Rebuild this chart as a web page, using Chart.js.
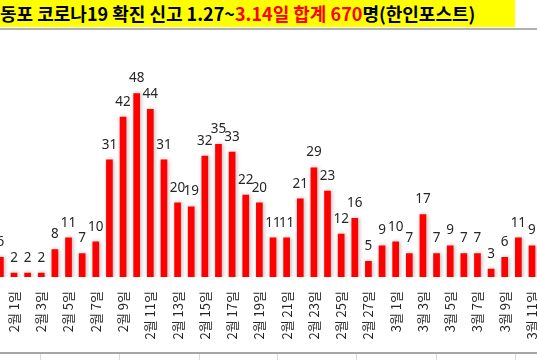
<!DOCTYPE html>
<html><head><meta charset="utf-8">
<script src="https://cdn.jsdelivr.net/npm/chart.js@4.4.0/dist/chart.umd.min.js"></script>
<style>
html,body{margin:0;padding:0;width:537px;height:360px;overflow:hidden;background:#fff;position:relative}
#title{position:absolute;left:0;top:0;width:515px;height:27px;background:#ffff00;font-family:'Noto Sans CJK KR',sans-serif;font-weight:700;font-size:18px;line-height:27px;white-space:nowrap;color:#000;overflow:hidden}
.red{color:#ff0000}
#topline{position:absolute;left:0;top:28px;width:537px;height:2px;background:#b0b0b0}
#wrap{position:absolute;left:-20px;top:30px;width:570px;height:322px}
#botline{position:absolute;left:0;top:352px;width:537px;height:2px;background:#a6a6a6}
.vl{position:absolute;top:354px;width:1px;height:6px;background:#dadada}
</style></head><body>
<div id="title">동포 코로나19 확진 신고 1.27~<span class="red">3.14일 합계 670</span>명(한인포스트)</div>
<div id="topline"></div>
<div id="wrap"><canvas id="c" width="570" height="322"></canvas></div>
<div id="botline"></div>
<div class="vl" style="left:40px"></div><div class="vl" style="left:119px"></div><div class="vl" style="left:199px"></div><div class="vl" style="left:277px"></div><div class="vl" style="left:356px"></div><div class="vl" style="left:436px"></div><div class="vl" style="left:515px"></div>
<script>
const categories = ['1월 31일','2월 1일','2월 2일','2월 3일','2월 4일','2월 5일','2월 6일','2월 7일','2월 8일','2월 9일','2월 10일','2월 11일','2월 12일','2월 13일','2월 14일','2월 15일','2월 16일','2월 17일','2월 18일','2월 19일','2월 20일','2월 21일','2월 22일','2월 23일','2월 24일','2월 25일','2월 26일','2월 27일','2월 28일','3월 1일','3월 2일','3월 3일','3월 4일','3월 5일','3월 6일','3월 7일','3월 8일','3월 9일','3월 10일','3월 11일'];
const values = [6,2,2,2,8,11,7,10,31,42,48,44,31,20,19,32,35,33,22,20,11,11,21,29,23,12,16,5,9,10,7,17,7,9,7,7,3,6,11,9];
const tickLabels = categories.map((c,i)=> i%2===1 ? c : '');

const shadowPlugin = {id:'shadow',
  beforeDatasetsDraw(c){const x=c.ctx; x.save(); x.shadowColor='rgba(0,0,0,0.3)'; x.shadowBlur=4; x.shadowOffsetX=1; x.shadowOffsetY=0;},
  afterDatasetsDraw(c){c.ctx.restore();}};
const labelPlugin = {id:'vlabels',
  afterDatasetsDraw(c){const ctx=c.ctx; const meta=c.getDatasetMeta(0); ctx.save();
    ctx.font='13.5px "Noto Sans"'; ctx.fillStyle='#262626'; ctx.textAlign='center'; ctx.textBaseline='alphabetic';
    meta.data.forEach((b,i)=>{ctx.fillText(String(values[i]), b.x, b.y-11);}); ctx.restore();}};

new Chart(document.getElementById('c'), {
  type:'bar',
  data:{labels:categories, datasets:[{data:values, backgroundColor:'#ff0000', borderWidth:0, barPercentage:0.49, categoryPercentage:1}]},
  options:{
    responsive:false, animation:false, devicePixelRatio:1,
    layout:{padding:{left:13.55, right:11.2, top:16.5, bottom:0}},
    plugins:{legend:{display:false}, tooltip:{enabled:false}, title:{display:false}},
    scales:{
      x:{grid:{display:false, drawTicks:false}, border:{display:false},
         ticks:{autoSkip:false, minRotation:90, maxRotation:90, padding:14, color:'#262626',
                font:{family:"'Noto Sans CJK KR'", size:13}, callback:(v,i)=>tickLabels[i]},
         afterFit:s=>{s.height=75; s.paddingLeft=0; s.paddingRight=0;}},
      y:{display:false, min:0.9, max:60}
    }
  },
  plugins:[shadowPlugin, labelPlugin]
});
</script>
</body></html>
